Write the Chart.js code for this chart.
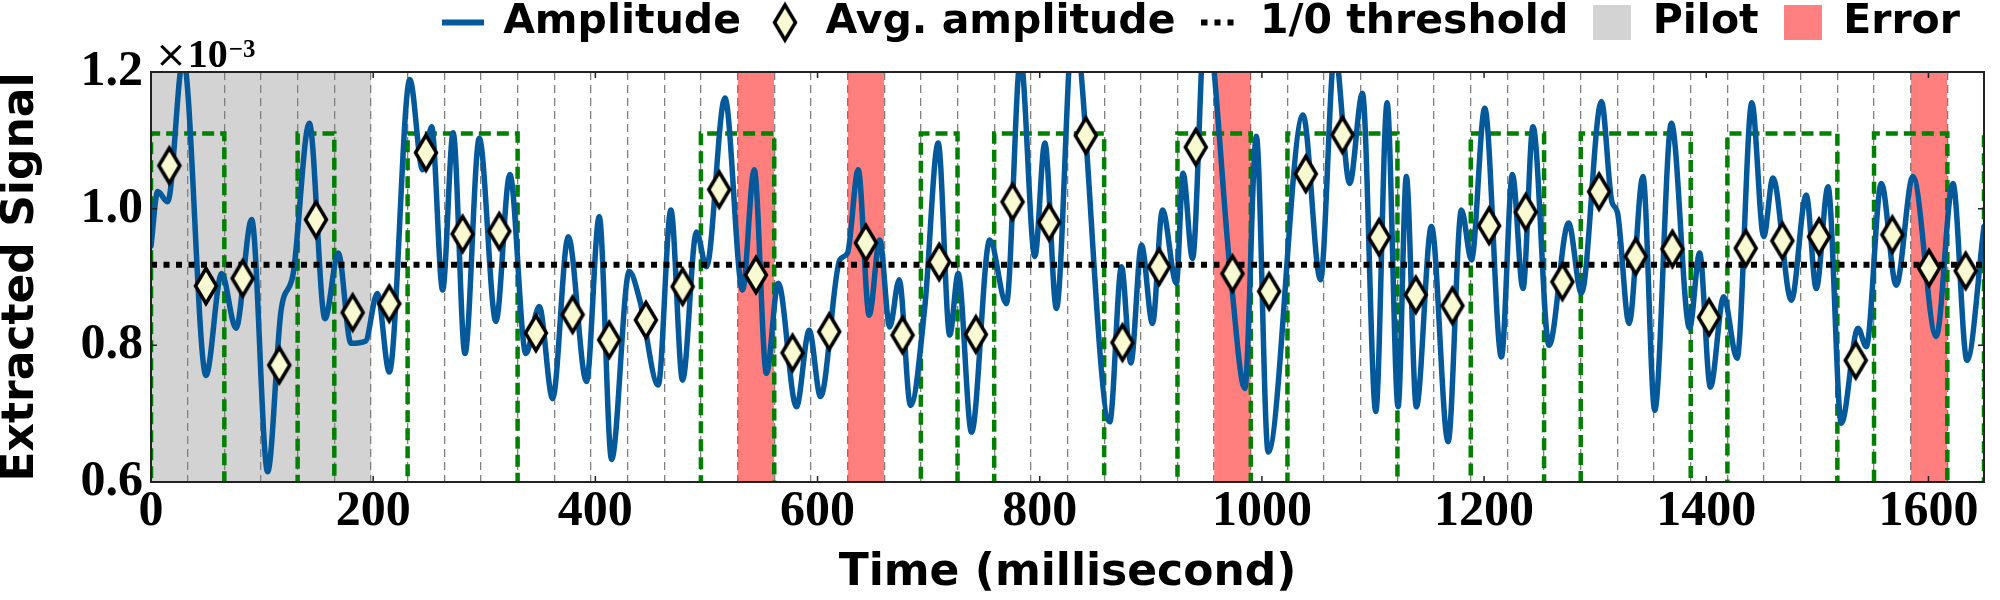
<!DOCTYPE html>
<html>
<head>
<meta charset="utf-8">
<script src="https://cdn.jsdelivr.net/npm/chart.js@4.4.1/dist/chart.umd.min.js"></script>
<style>
html,body{margin:0;padding:0;background:#ffffff;}
#wrap{width:2000px;height:600px;}
</style>
</head>
<body>
<div id="wrap"><canvas id="c" width="2000" height="600" style="width:2000px;height:600px"></canvas></div>
<script>
// ---------------- DATA ----------------
// Extracted amplitude curve (time in ms, value in 1e-3 units), read at turning points
const ampTime = [
  0, 6, 15, 29, 49.5, 63.6, 76.5, 90.6, 105, 117,
  128, 142.5, 156.6, 168.6, 180, 193, 203.7, 214.5, 233, 244.5,
  252.6, 262.5, 272, 282.6, 295.5, 310.5, 323, 337.5, 349.5, 361.5,
  375.6, 392, 403.5, 414.6, 430.5, 440, 456.6, 468, 478.5, 491,
  500, 516.6, 532.5, 543, 554, 564.6, 581, 592.5, 602.7, 620,
  627, 636.6, 646.5, 656, 665, 673.5, 683.7, 696.6, 708.6, 719,
  726.6, 738.6, 755, 770, 782.7, 795.6, 804.6, 815, 830, 863,
  873.6, 882, 891.6, 901.5, 910.5, 923, 929, 937.5, 949, 972,
  984.6, 995, 1005.6, 1037, 1052.7, 1065.6, 1079, 1090.5, 1102.5, 1112.7,
  1122.6, 1130, 1139, 1152.6, 1167.6, 1179.6, 1188.6, 1200.6, 1215.6, 1225.5,
  1235, 1244, 1258.5, 1276, 1287.6, 1305.6, 1315, 1320, 1330.5, 1343,
  1353.6, 1368.6, 1385, 1394, 1403.7, 1415.7, 1427.7, 1441, 1451.7, 1460,
  1476.6, 1490, 1499, 1509.6, 1521.6, 1536.6, 1544, 1557.6, 1571, 1586,
  1607, 1622, 1634.7, 1650
];
const ampValue = [
  0.945, 1.025, 1.010, 1.220, 0.756, 0.905, 0.825, 0.984, 0.615, 0.850,
  0.905, 1.125, 0.839, 0.935, 0.803, 0.806, 0.876, 0.761, 1.189, 1.057,
  1.120, 0.881, 1.111, 0.788, 1.103, 0.835, 1.050, 0.788, 0.857, 0.722,
  0.959, 0.747, 0.988, 0.633, 0.908, 0.866, 0.742, 0.998, 0.749, 0.966,
  0.915, 1.162, 0.881, 1.057, 0.759, 0.891, 0.710, 0.822, 0.725, 0.925,
  0.935, 1.057, 0.844, 0.954, 0.827, 0.896, 0.712, 0.857, 1.096, 0.815,
  0.905, 0.673, 0.954, 0.861, 1.220, 0.930, 1.096, 0.854, 1.270, 0.688,
  0.915, 0.774, 0.947, 0.832, 0.998, 0.891, 1.052, 0.927, 1.280, 0.900,
  0.737, 1.106, 0.644, 1.137, 0.896, 1.230, 1.037, 1.169, 0.703, 1.155,
  0.710, 1.047, 0.710, 0.974, 0.659, 0.998, 0.925, 1.147, 0.783, 1.050,
  0.883, 1.120, 0.800, 0.979, 0.876, 1.157, 1.010, 0.995, 0.832, 1.047,
  0.705, 1.125, 0.825, 0.935, 0.739, 0.871, 0.781, 1.155, 0.959, 1.045,
  0.866, 1.020, 0.883, 1.032, 0.686, 0.825, 0.798, 1.037, 0.888, 1.047,
  0.813, 1.037, 0.778, 0.974
];
// Average amplitude per symbol (50 symbols of 33 ms)
const avgAmplitude = [
  1.063, 0.887, 0.898, 0.771, 0.984, 0.848, 0.861, 1.082, 0.963, 0.967,
  0.818, 0.845, 0.808, 0.837, 0.886, 1.028, 0.903, 0.789, 0.820, 0.950,
  0.815, 0.922, 0.816, 1.010, 0.980, 1.107, 0.804, 0.915, 1.090, 0.905,
  0.879, 1.051, 1.108, 0.958, 0.874, 0.858, 0.975, 0.995, 0.893, 1.025,
  0.930, 0.941, 0.841, 0.942, 0.953, 0.959, 0.778, 0.962, 0.913, 0.909
];
// Transmitted bits (green dashed square wave)
const txBits = [
  1, 1, 0, 0, 1, 0, 0, 1, 1, 1,
  0, 0, 0, 0, 0, 1, 1, 0, 0, 0,
  0, 1, 0, 1, 1, 1, 0, 0, 1, 1,
  0, 1, 1, 1, 0, 0, 1, 1, 0, 1,
  1, 1, 0, 1, 1, 1, 0, 1, 1, 0
];
const nextBit = 1;               // rising edge drawn at the right border
const errorSymbols = [16, 19, 29, 48];
const symbolLength = 33;         // ms
const pilotRange = [0, 198];     // ms
const threshold = 0.918;
const bitHighLevel = 1.11;
const bitLowLevel = 0.5;
const xRange = [0, 1650];
const yRange = [0.6, 1.2];
const xTickValues = [0, 200, 400, 600, 800, 1000, 1200, 1400, 1600];
const xTickLabels = ['0', '200', '400', '600', '800', '1000', '1200', '1400', '1600'];
const yTickLabels = ['0.6', '0.8', '1.0', '1.2'];
const legendLabels = ['Amplitude', 'Avg. amplitude', '1/0 threshold', 'Pilot', 'Error'];

// ---------------- STYLE ----------------
const BLUE = '#03599a';
const DIAMOND_FILL = '#fafad2';
const PILOT_FILL = 'rgba(128,128,128,0.35)';
const ERROR_FILL = 'rgba(255,0,0,0.5)';
const GREEN = '#008000';

function makeCanvas(w, h, draw) {
  const c = document.createElement('canvas');
  c.width = w; c.height = h;
  draw(c.getContext('2d'));
  return c;
}
const diamondMarker = makeCanvas(30, 48, g => {
  g.beginPath();
  g.moveTo(15, 6.5); g.lineTo(25.5, 24); g.lineTo(15, 41.5); g.lineTo(4.5, 24); g.closePath();
  g.fillStyle = DIAMOND_FILL; g.fill();
  g.lineWidth = 3.5; g.lineJoin = 'miter'; g.miterLimit = 10; g.strokeStyle = '#000'; g.stroke();
});
const lineMarker = makeCanvas(42, 8, g => { g.fillStyle = BLUE; g.fillRect(0, 1, 42, 6); });
const dotMarker = makeCanvas(36, 8, g => {
  g.strokeStyle = '#000'; g.lineWidth = 6; g.setLineDash([6, 7]);
  g.beginPath(); g.moveTo(0, 4); g.lineTo(36, 4); g.stroke();
});
const pilotMarker = makeCanvas(38, 35, g => { g.fillStyle = '#d3d3d3'; g.fillRect(0, 0, 38, 35); });
const errorMarker = makeCanvas(38, 35, g => { g.fillStyle = '#ff8080'; g.fillRect(0, 0, 38, 35); });
const legendMarkers = [lineMarker, diamondMarker, dotMarker, pilotMarker, errorMarker];

// ---------------- DATASETS ----------------
const ampPoints = ampTime.map((t, i) => ({x: t, y: ampValue[i]}));
const avgPoints = avgAmplitude.map((v, i) => ({x: (i + 0.5) * symbolLength, y: v}));
const stepPoints = [{x: 0, y: bitLowLevel}]
  .concat(txBits.map((b, i) => ({x: i * symbolLength, y: b ? bitHighLevel : bitLowLevel})))
  .concat([{x: txBits.length * symbolLength, y: nextBit ? bitHighLevel : bitLowLevel}]);
const symbolBoundaries = [];
for (let k = 1; k < txBits.length; k++) symbolBoundaries.push(k * symbolLength);

const datasets = [
  {
    label: 'Avg. amplitude', data: avgPoints, showLine: false, order: 0,
    pointStyle: diamondMarker, pointRadius: 12, pointHoverRadius: 12,
    xAxisID: 'x', yAxisID: 'y'
  },
  {
    label: '1/0 threshold', data: [{x: xRange[0], y: threshold}, {x: xRange[1], y: threshold}],
    borderColor: '#000', borderWidth: 6, borderDash: [6, 6.5], borderCapStyle: 'butt',
    pointRadius: 0, order: 1, xAxisID: 'x', yAxisID: 'y'
  },
  {
    label: 'Amplitude', data: ampPoints, borderColor: BLUE, borderWidth: 5.5,
    cubicInterpolationMode: 'monotone', pointRadius: 0, clip: 0,
    borderJoinStyle: 'round', borderCapStyle: 'round', order: 2, xAxisID: 'x', yAxisID: 'y'
  },
  {
    label: 'Bits', data: stepPoints, stepped: true, borderColor: GREEN, borderWidth: 4.5,
    borderDash: [12, 6], pointRadius: 0, order: 3, xAxisID: 'x', yAxisID: 'y'
  },
  {
    label: 'Pilot', data: [{x: pilotRange[0], y: yRange[1]}, {x: pilotRange[1], y: yRange[1]}],
    fill: 'start', backgroundColor: PILOT_FILL, borderWidth: 0, pointRadius: 0, order: 5,
    xAxisID: 'x', yAxisID: 'y'
  }
].concat(errorSymbols.map(s => ({
  label: 'Error', data: [{x: s * symbolLength, y: yRange[1]}, {x: (s + 1) * symbolLength, y: yRange[1]}],
  fill: 'start', backgroundColor: ERROR_FILL, borderWidth: 0, pointRadius: 0, order: 4,
  xAxisID: 'x', yAxisID: 'y'
})));

// ---------------- PLUGINS ----------------
const layoutTweaks = {
  id: 'layoutTweaks',
  beforeUpdate(chart) {
    const lg = chart.legend;
    if (lg && !lg._fixedFit) {
      const f = lg.fit.bind(lg);
      lg.fit = function () { f(); this.height = 72; };
      lg._fixedFit = true;
    }
  },
  afterLayout(chart) {
    if (chart.legend) chart.legend.top = -22;
  }
};

const framePlugin = {
  id: 'frame',
  afterDatasetsDraw(chart) {
    const {ctx, chartArea: a, scales} = chart;
    ctx.save();
    ctx.strokeStyle = '#222';
    ctx.lineWidth = 2;
    ctx.strokeRect(a.left, a.top, a.right - a.left, a.bottom - a.top);
    ctx.lineWidth = 1.5;
    ctx.beginPath();
    scales.x.ticks.forEach(t => {
      const px = scales.x.getPixelForValue(t.value);
      ctx.moveTo(px, a.bottom); ctx.lineTo(px, a.bottom - 6);
      ctx.moveTo(px, a.top); ctx.lineTo(px, a.top + 6);
    });
    scales.y.ticks.forEach(t => {
      const py = scales.y.getPixelForValue(t.value);
      ctx.moveTo(a.left, py); ctx.lineTo(a.left + 6, py);
      ctx.moveTo(a.right, py); ctx.lineTo(a.right - 6, py);
    });
    ctx.stroke();
    // axis offset text  ×10^-3
    ctx.fillStyle = '#000';
    ctx.textAlign = 'left';
    ctx.textBaseline = 'alphabetic';
    let x = a.left + 4;
    const base = a.top - 5;
    ctx.font = '38px "DejaVu Sans"';
    ctx.fillText('×', x, base);
    x += ctx.measureText('×').width + 1;
    ctx.font = 'bold 40px "Liberation Serif"';
    ctx.fillText('10', x, base);
    x += ctx.measureText('10').width + 1;
    ctx.font = 'bold 25px "Liberation Serif"';
    ctx.fillText('−3', x, base - 10);
    ctx.restore();
  }
};

// ---------------- CHART ----------------
Chart.defaults.font.family = '"DejaVu Sans", sans-serif';
Chart.defaults.color = '#000';

const tickFont = {family: '"Liberation Serif", serif', weight: 'bold', size: 50, lineHeight: 1.0};
const titleFont = {family: '"DejaVu Sans", sans-serif', weight: 'bold', size: 44};

new Chart(document.getElementById('c'), {
  type: 'line',
  data: {datasets},
  options: {
    responsive: false,
    animation: false,
    events: [],
    layout: {padding: {left: 0, right: 16, top: 0, bottom: 0}},
    scales: {
      x: {
        type: 'linear', position: 'bottom', min: xRange[0], max: xRange[1], weight: 0,
        grid: {display: false, drawTicks: false},
        border: {display: false},
        ticks: {
          includeBounds: false, padding: 5, font: tickFont, color: '#000',
          maxRotation: 0, autoSkip: false,
          callback: (v) => {
            const i = xTickValues.indexOf(v);
            return i >= 0 ? xTickLabels[i] : '';
          }
        },
        afterBuildTicks(s) { s.ticks = xTickValues.map(v => ({value: v})); },
        title: {display: true, text: 'Time (millisecond)', font: {...titleFont, lineHeight: 1.2}, padding: 0, color: '#000'},
        afterFit(s) { s.height = 118; }
      },
      xg: {
        type: 'linear', position: 'bottom', min: xRange[0], max: xRange[1], weight: 1,
        ticks: {display: false},
        grid: {display: true, drawOnChartArea: true, drawTicks: false, color: '#808080', lineWidth: 1.3},
        border: {display: false, dash: [8, 5]},
        afterBuildTicks(s) { s.ticks = symbolBoundaries.map(v => ({value: v})); },
        afterFit(s) { s.height = 0; }
      },
      y: {
        type: 'linear', position: 'left', min: yRange[0], max: yRange[1],
        grid: {display: false, drawTicks: false},
        border: {display: false},
        ticks: {
          padding: 8, font: tickFont, color: '#000',
          callback: (v) => {
            const i = Math.round((v - yRange[0]) / 0.2);
            return yTickLabels[i] !== undefined ? yTickLabels[i] : '';
          }
        },
        afterBuildTicks(s) { s.ticks = yTickLabels.map(l => ({value: parseFloat(l)})); },
        title: {display: true, text: 'Extracted Signal', font: {...titleFont, lineHeight: 1.0}, padding: 0, color: '#000'},
        afterFit(s) { s.width = 151; }
      }
    },
    plugins: {
      tooltip: {enabled: false},
      legend: {
        display: true, position: 'top', align: 'end',
        onClick: null,
        labels: {
          usePointStyle: true, pointStyleWidth: 40, padding: 24, color: '#000',
          font: {family: '"DejaVu Sans", sans-serif', weight: 'bold', size: 41},
          generateLabels: () => legendLabels.map((t, i) => ({
            text: t, pointStyle: legendMarkers[i], fillStyle: '#000', strokeStyle: '#000',
            lineWidth: 0, hidden: false, fontColor: '#000', datasetIndex: i
          }))
        }
      }
    }
  },
  plugins: [layoutTweaks, framePlugin]
});
</script>
</body>
</html>
